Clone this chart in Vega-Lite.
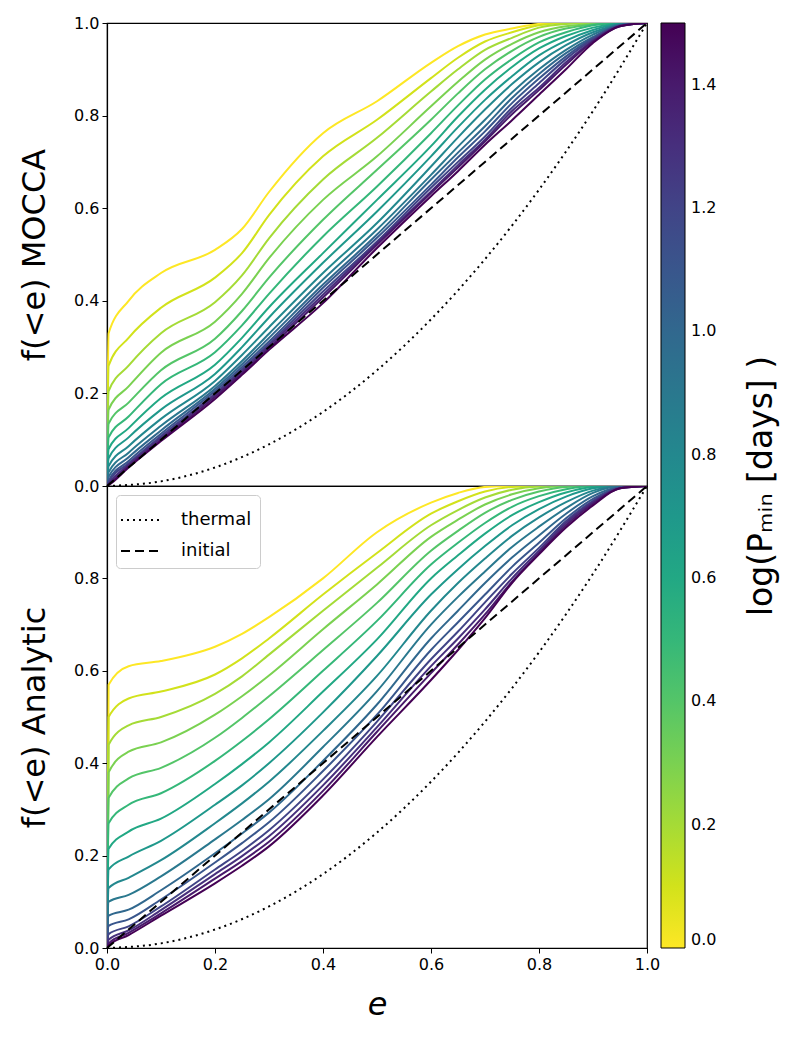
{
"$schema": "https://vega.github.io/schema/vega-lite/v6.json",
"padding": {"left": 17, "top": 14, "right": 5, "bottom": 5},
"datasets": {
"cdf": [
{"k":0,"e":0,"m":0,"a":0},{"k":0,"e":0.003,"m":0.33,"a":0.57},{"k":0,"e":0.04,"m":0.40,"a":0.61},{"k":0,"e":0.1,"m":0.46,"a":0.621},{"k":0,"e":0.2,"m":0.51,"a":0.652},{"k":0,"e":0.25,"m":0.555,"a":0.68},{"k":0,"e":0.3,"m":0.635,"a":0.716},{"k":0,"e":0.4,"m":0.762,"a":0.80},{"k":0,"e":0.5,"m":0.831,"a":0.90},{"k":0,"e":0.6,"m":0.914,"a":0.964},{"k":0,"e":0.65,"m":0.95,"a":0.985},{"k":0,"e":0.7,"m":0.975,"a":0.998},{"k":0,"e":0.75,"m":0.988,"a":1},{"k":0,"e":0.8,"m":0.998,"a":1},{"k":0,"e":0.85,"m":1,"a":1},{"k":0,"e":0.9,"m":1,"a":1},{"k":0,"e":0.95,"m":1,"a":1},{"k":0,"e":1,"m":1,"a":1},
{"k":0.1,"e":0,"m":0,"a":0},{"k":0.1,"e":0.003,"m":0.26,"a":0.50},{"k":0.1,"e":0.04,"m":0.32,"a":0.54},{"k":0.1,"e":0.1,"m":0.385,"a":0.555},{"k":0.1,"e":0.2,"m":0.45,"a":0.592},{"k":0.1,"e":0.25,"m":0.503,"a":0.627},{"k":0.1,"e":0.3,"m":0.585,"a":0.67},{"k":0.1,"e":0.4,"m":0.712,"a":0.765},{"k":0.1,"e":0.5,"m":0.791,"a":0.855},{"k":0.1,"e":0.6,"m":0.881,"a":0.94},{"k":0.1,"e":0.65,"m":0.925,"a":0.967},{"k":0.1,"e":0.7,"m":0.96,"a":0.988},{"k":0.1,"e":0.75,"m":0.98,"a":0.998},{"k":0.1,"e":0.8,"m":0.995,"a":1},{"k":0.1,"e":0.85,"m":1,"a":1},{"k":0.1,"e":0.9,"m":1,"a":1},{"k":0.1,"e":0.95,"m":1,"a":1},{"k":0.1,"e":1,"m":1,"a":1},
{"k":0.2,"e":0,"m":0,"a":0},{"k":0.2,"e":0.003,"m":0.205,"a":0.44},{"k":0.2,"e":0.04,"m":0.26,"a":0.482},{"k":0.2,"e":0.1,"m":0.33,"a":0.50},{"k":0.2,"e":0.2,"m":0.397,"a":0.55},{"k":0.2,"e":0.25,"m":0.455,"a":0.588},{"k":0.2,"e":0.3,"m":0.535,"a":0.635},{"k":0.2,"e":0.4,"m":0.662,"a":0.73},{"k":0.2,"e":0.5,"m":0.752,"a":0.823},{"k":0.2,"e":0.6,"m":0.852,"a":0.915},{"k":0.2,"e":0.65,"m":0.90,"a":0.948},{"k":0.2,"e":0.7,"m":0.942,"a":0.975},{"k":0.2,"e":0.75,"m":0.968,"a":0.992},{"k":0.2,"e":0.8,"m":0.99,"a":0.999},{"k":0.2,"e":0.85,"m":0.998,"a":1},{"k":0.2,"e":0.9,"m":1,"a":1},{"k":0.2,"e":0.95,"m":1,"a":1},{"k":0.2,"e":1,"m":1,"a":1},
{"k":0.3,"e":0,"m":0,"a":0},{"k":0.3,"e":0.003,"m":0.165,"a":0.38},{"k":0.3,"e":0.04,"m":0.215,"a":0.425},{"k":0.3,"e":0.1,"m":0.288,"a":0.445},{"k":0.3,"e":0.2,"m":0.355,"a":0.505},{"k":0.3,"e":0.25,"m":0.415,"a":0.545},{"k":0.3,"e":0.3,"m":0.492,"a":0.59},{"k":0.3,"e":0.4,"m":0.618,"a":0.69},{"k":0.3,"e":0.5,"m":0.712,"a":0.787},{"k":0.3,"e":0.6,"m":0.82,"a":0.89},{"k":0.3,"e":0.65,"m":0.873,"a":0.927},{"k":0.3,"e":0.7,"m":0.921,"a":0.96},{"k":0.3,"e":0.75,"m":0.955,"a":0.982},{"k":0.3,"e":0.8,"m":0.98,"a":0.995},{"k":0.3,"e":0.85,"m":0.993,"a":1},{"k":0.3,"e":0.9,"m":0.998,"a":1},{"k":0.3,"e":0.95,"m":1,"a":1},{"k":0.3,"e":1,"m":1,"a":1},
{"k":0.4,"e":0,"m":0,"a":0},{"k":0.4,"e":0.003,"m":0.135,"a":0.325},{"k":0.4,"e":0.04,"m":0.18,"a":0.367},{"k":0.4,"e":0.1,"m":0.25,"a":0.39},{"k":0.4,"e":0.2,"m":0.318,"a":0.455},{"k":0.4,"e":0.25,"m":0.378,"a":0.498},{"k":0.4,"e":0.3,"m":0.45,"a":0.545},{"k":0.4,"e":0.4,"m":0.575,"a":0.645},{"k":0.4,"e":0.5,"m":0.683,"a":0.747},{"k":0.4,"e":0.6,"m":0.791,"a":0.86},{"k":0.4,"e":0.65,"m":0.848,"a":0.903},{"k":0.4,"e":0.7,"m":0.90,"a":0.942},{"k":0.4,"e":0.75,"m":0.94,"a":0.97},{"k":0.4,"e":0.8,"m":0.97,"a":0.988},{"k":0.4,"e":0.85,"m":0.988,"a":0.998},{"k":0.4,"e":0.9,"m":0.997,"a":1},{"k":0.4,"e":0.95,"m":1,"a":1},{"k":0.4,"e":1,"m":1,"a":1},
{"k":0.5,"e":0,"m":0,"a":0},{"k":0.5,"e":0.003,"m":0.105,"a":0.27},{"k":0.5,"e":0.04,"m":0.15,"a":0.31},{"k":0.5,"e":0.1,"m":0.22,"a":0.335},{"k":0.5,"e":0.2,"m":0.289,"a":0.405},{"k":0.5,"e":0.25,"m":0.347,"a":0.448},{"k":0.5,"e":0.3,"m":0.415,"a":0.495},{"k":0.5,"e":0.4,"m":0.539,"a":0.60},{"k":0.5,"e":0.5,"m":0.647,"a":0.708},{"k":0.5,"e":0.6,"m":0.762,"a":0.83},{"k":0.5,"e":0.65,"m":0.822,"a":0.877},{"k":0.5,"e":0.7,"m":0.878,"a":0.92},{"k":0.5,"e":0.75,"m":0.922,"a":0.955},{"k":0.5,"e":0.8,"m":0.958,"a":0.978},{"k":0.5,"e":0.85,"m":0.98,"a":0.993},{"k":0.5,"e":0.9,"m":0.995,"a":1},{"k":0.5,"e":0.95,"m":1,"a":1},{"k":0.5,"e":1,"m":1,"a":1},
{"k":0.6,"e":0,"m":0,"a":0},{"k":0.6,"e":0.003,"m":0.08,"a":0.215},{"k":0.6,"e":0.04,"m":0.125,"a":0.252},{"k":0.6,"e":0.1,"m":0.19,"a":0.28},{"k":0.6,"e":0.2,"m":0.262,"a":0.355},{"k":0.6,"e":0.25,"m":0.32,"a":0.398},{"k":0.6,"e":0.3,"m":0.386,"a":0.445},{"k":0.6,"e":0.4,"m":0.503,"a":0.555},{"k":0.6,"e":0.5,"m":0.618,"a":0.668},{"k":0.6,"e":0.6,"m":0.734,"a":0.80},{"k":0.6,"e":0.65,"m":0.798,"a":0.85},{"k":0.6,"e":0.7,"m":0.856,"a":0.897},{"k":0.6,"e":0.75,"m":0.905,"a":0.937},{"k":0.6,"e":0.8,"m":0.945,"a":0.965},{"k":0.6,"e":0.85,"m":0.972,"a":0.986},{"k":0.6,"e":0.9,"m":0.99,"a":0.998},{"k":0.6,"e":0.95,"m":0.999,"a":1},{"k":0.6,"e":1,"m":1,"a":1},
{"k":0.7,"e":0,"m":0,"a":0},{"k":0.7,"e":0.003,"m":0.06,"a":0.17},{"k":0.7,"e":0.04,"m":0.105,"a":0.198},{"k":0.7,"e":0.1,"m":0.165,"a":0.232},{"k":0.7,"e":0.2,"m":0.242,"a":0.31},{"k":0.7,"e":0.25,"m":0.3,"a":0.352},{"k":0.7,"e":0.3,"m":0.364,"a":0.40},{"k":0.7,"e":0.4,"m":0.482,"a":0.51},{"k":0.7,"e":0.5,"m":0.593,"a":0.632},{"k":0.7,"e":0.6,"m":0.712,"a":0.765},{"k":0.7,"e":0.65,"m":0.775,"a":0.82},{"k":0.7,"e":0.7,"m":0.834,"a":0.87},{"k":0.7,"e":0.75,"m":0.885,"a":0.915},{"k":0.7,"e":0.8,"m":0.93,"a":0.95},{"k":0.7,"e":0.85,"m":0.962,"a":0.977},{"k":0.7,"e":0.9,"m":0.985,"a":0.995},{"k":0.7,"e":0.95,"m":0.998,"a":1},{"k":0.7,"e":1,"m":1,"a":1},
{"k":0.8,"e":0,"m":0,"a":0},{"k":0.8,"e":0.003,"m":0.043,"a":0.13},{"k":0.8,"e":0.04,"m":0.086,"a":0.152},{"k":0.8,"e":0.1,"m":0.145,"a":0.19},{"k":0.8,"e":0.2,"m":0.227,"a":0.27},{"k":0.8,"e":0.25,"m":0.283,"a":0.313},{"k":0.8,"e":0.3,"m":0.343,"a":0.36},{"k":0.8,"e":0.4,"m":0.46,"a":0.47},{"k":0.8,"e":0.5,"m":0.568,"a":0.589},{"k":0.8,"e":0.6,"m":0.69,"a":0.73},{"k":0.8,"e":0.65,"m":0.753,"a":0.79},{"k":0.8,"e":0.7,"m":0.813,"a":0.843},{"k":0.8,"e":0.75,"m":0.868,"a":0.892},{"k":0.8,"e":0.8,"m":0.915,"a":0.932},{"k":0.8,"e":0.85,"m":0.952,"a":0.965},{"k":0.8,"e":0.9,"m":0.98,"a":0.99},{"k":0.8,"e":0.95,"m":0.997,"a":1},{"k":0.8,"e":1,"m":1,"a":1},
{"k":0.9,"e":0,"m":0,"a":0},{"k":0.9,"e":0.003,"m":0.03,"a":0.10},{"k":0.9,"e":0.04,"m":0.072,"a":0.115},{"k":0.9,"e":0.1,"m":0.13,"a":0.155},{"k":0.9,"e":0.2,"m":0.216,"a":0.235},{"k":0.9,"e":0.25,"m":0.27,"a":0.277},{"k":0.9,"e":0.3,"m":0.329,"a":0.322},{"k":0.9,"e":0.4,"m":0.446,"a":0.435},{"k":0.9,"e":0.5,"m":0.554,"a":0.556},{"k":0.9,"e":0.6,"m":0.672,"a":0.70},{"k":0.9,"e":0.65,"m":0.733,"a":0.76},{"k":0.9,"e":0.7,"m":0.791,"a":0.815},{"k":0.9,"e":0.75,"m":0.85,"a":0.868},{"k":0.9,"e":0.8,"m":0.90,"a":0.912},{"k":0.9,"e":0.85,"m":0.942,"a":0.952},{"k":0.9,"e":0.9,"m":0.975,"a":0.985},{"k":0.9,"e":0.95,"m":0.996,"a":1},{"k":0.9,"e":1,"m":1,"a":1},
{"k":1.0,"e":0,"m":0,"a":0},{"k":1.0,"e":0.003,"m":0.02,"a":0.07},{"k":1.0,"e":0.04,"m":0.062,"a":0.083},{"k":1.0,"e":0.1,"m":0.12,"a":0.125},{"k":1.0,"e":0.2,"m":0.21,"a":0.205},{"k":1.0,"e":0.25,"m":0.263,"a":0.248},{"k":1.0,"e":0.3,"m":0.32,"a":0.293},{"k":1.0,"e":0.4,"m":0.435,"a":0.405},{"k":1.0,"e":0.5,"m":0.543,"a":0.527},{"k":1.0,"e":0.6,"m":0.662,"a":0.67},{"k":1.0,"e":0.65,"m":0.72,"a":0.73},{"k":1.0,"e":0.7,"m":0.777,"a":0.79},{"k":1.0,"e":0.75,"m":0.838,"a":0.845},{"k":1.0,"e":0.8,"m":0.89,"a":0.893},{"k":1.0,"e":0.85,"m":0.935,"a":0.94},{"k":1.0,"e":0.9,"m":0.97,"a":0.978},{"k":1.0,"e":0.95,"m":0.995,"a":0.998},{"k":1.0,"e":1,"m":1,"a":1},
{"k":1.1,"e":0,"m":0,"a":0},{"k":1.1,"e":0.003,"m":0.012,"a":0.048},{"k":1.1,"e":0.04,"m":0.054,"a":0.062},{"k":1.1,"e":0.1,"m":0.113,"a":0.105},{"k":1.1,"e":0.2,"m":0.205,"a":0.185},{"k":1.1,"e":0.25,"m":0.257,"a":0.227},{"k":1.1,"e":0.3,"m":0.312,"a":0.272},{"k":1.1,"e":0.4,"m":0.428,"a":0.383},{"k":1.1,"e":0.5,"m":0.536,"a":0.505},{"k":1.1,"e":0.6,"m":0.651,"a":0.645},{"k":1.1,"e":0.65,"m":0.71,"a":0.705},{"k":1.1,"e":0.7,"m":0.766,"a":0.765},{"k":1.1,"e":0.75,"m":0.827,"a":0.825},{"k":1.1,"e":0.8,"m":0.88,"a":0.877},{"k":1.1,"e":0.85,"m":0.928,"a":0.93},{"k":1.1,"e":0.9,"m":0.968,"a":0.972},{"k":1.1,"e":0.95,"m":0.995,"a":0.997},{"k":1.1,"e":1,"m":1,"a":1},
{"k":1.2,"e":0,"m":0,"a":0},{"k":1.2,"e":0.003,"m":0.008,"a":0.03},{"k":1.2,"e":0.04,"m":0.049,"a":0.047},{"k":1.2,"e":0.1,"m":0.108,"a":0.09},{"k":1.2,"e":0.2,"m":0.20,"a":0.17},{"k":1.2,"e":0.25,"m":0.252,"a":0.21},{"k":1.2,"e":0.3,"m":0.307,"a":0.255},{"k":1.2,"e":0.4,"m":0.42,"a":0.365},{"k":1.2,"e":0.5,"m":0.528,"a":0.49},{"k":1.2,"e":0.6,"m":0.644,"a":0.625},{"k":1.2,"e":0.65,"m":0.70,"a":0.685},{"k":1.2,"e":0.7,"m":0.755,"a":0.748},{"k":1.2,"e":0.75,"m":0.817,"a":0.81},{"k":1.2,"e":0.8,"m":0.87,"a":0.866},{"k":1.2,"e":0.85,"m":0.922,"a":0.924},{"k":1.2,"e":0.9,"m":0.965,"a":0.968},{"k":1.2,"e":0.95,"m":0.994,"a":0.996},{"k":1.2,"e":1,"m":1,"a":1},
{"k":1.3,"e":0,"m":0,"a":0},{"k":1.3,"e":0.003,"m":0.005,"a":0.018},{"k":1.3,"e":0.04,"m":0.046,"a":0.038},{"k":1.3,"e":0.1,"m":0.104,"a":0.082},{"k":1.3,"e":0.2,"m":0.197,"a":0.16},{"k":1.3,"e":0.25,"m":0.248,"a":0.199},{"k":1.3,"e":0.3,"m":0.303,"a":0.242},{"k":1.3,"e":0.4,"m":0.413,"a":0.352},{"k":1.3,"e":0.5,"m":0.525,"a":0.478},{"k":1.3,"e":0.6,"m":0.636,"a":0.61},{"k":1.3,"e":0.65,"m":0.693,"a":0.67},{"k":1.3,"e":0.7,"m":0.748,"a":0.733},{"k":1.3,"e":0.75,"m":0.81,"a":0.80},{"k":1.3,"e":0.8,"m":0.86,"a":0.86},{"k":1.3,"e":0.85,"m":0.915,"a":0.92},{"k":1.3,"e":0.9,"m":0.962,"a":0.965},{"k":1.3,"e":0.95,"m":0.994,"a":0.995},{"k":1.3,"e":1,"m":1,"a":1},
{"k":1.4,"e":0,"m":0,"a":0},{"k":1.4,"e":0.003,"m":0.003,"a":0.01},{"k":1.4,"e":0.04,"m":0.043,"a":0.033},{"k":1.4,"e":0.1,"m":0.10,"a":0.075},{"k":1.4,"e":0.2,"m":0.193,"a":0.15},{"k":1.4,"e":0.25,"m":0.244,"a":0.188},{"k":1.4,"e":0.3,"m":0.298,"a":0.23},{"k":1.4,"e":0.4,"m":0.407,"a":0.34},{"k":1.4,"e":0.5,"m":0.521,"a":0.468},{"k":1.4,"e":0.6,"m":0.633,"a":0.595},{"k":1.4,"e":0.65,"m":0.688,"a":0.657},{"k":1.4,"e":0.7,"m":0.744,"a":0.722},{"k":1.4,"e":0.75,"m":0.803,"a":0.793},{"k":1.4,"e":0.8,"m":0.855,"a":0.855},{"k":1.4,"e":0.85,"m":0.91,"a":0.915},{"k":1.4,"e":0.9,"m":0.96,"a":0.962},{"k":1.4,"e":0.95,"m":0.993,"a":0.995},{"k":1.4,"e":1,"m":1,"a":1},
{"k":1.5,"e":0,"m":0,"a":0},{"k":1.5,"e":0.003,"m":0.002,"a":0.005},{"k":1.5,"e":0.04,"m":0.04,"a":0.028},{"k":1.5,"e":0.1,"m":0.097,"a":0.07},{"k":1.5,"e":0.2,"m":0.188,"a":0.14},{"k":1.5,"e":0.25,"m":0.24,"a":0.178},{"k":1.5,"e":0.3,"m":0.294,"a":0.22},{"k":1.5,"e":0.4,"m":0.395,"a":0.33},{"k":1.5,"e":0.5,"m":0.514,"a":0.457},{"k":1.5,"e":0.6,"m":0.626,"a":0.58},{"k":1.5,"e":0.65,"m":0.68,"a":0.645},{"k":1.5,"e":0.7,"m":0.737,"a":0.714},{"k":1.5,"e":0.75,"m":0.79,"a":0.79},{"k":1.5,"e":0.8,"m":0.845,"a":0.852},{"k":1.5,"e":0.85,"m":0.90,"a":0.91},{"k":1.5,"e":0.9,"m":0.957,"a":0.958},{"k":1.5,"e":0.95,"m":0.993,"a":0.995},{"k":1.5,"e":1,"m":1,"a":1}
],
"ref": [
{"s":"thermal","e":0,"f":0},{"s":"thermal","e":0.1,"f":0.01},{"s":"thermal","e":0.2,"f":0.04},{"s":"thermal","e":0.3,"f":0.09},{"s":"thermal","e":0.4,"f":0.16},{"s":"thermal","e":0.5,"f":0.25},{"s":"thermal","e":0.6,"f":0.36},{"s":"thermal","e":0.7,"f":0.49},{"s":"thermal","e":0.8,"f":0.64},{"s":"thermal","e":0.9,"f":0.81},{"s":"thermal","e":1,"f":1},
{"s":"initial","e":0,"f":0},{"s":"initial","e":1,"f":1}
]
},
"spacing": 0,
"bounds": "flush",
"resolve": {"scale": {"strokeDash": "independent"}},
"vconcat": [
{
"width": 540, "height": 463,
"layer": [
{"data": {"name": "cdf"},
 "mark": {"type": "line", "strokeWidth": 2, "clip": true, "interpolate": "monotone"},
 "encoding": {
  "x": {"field": "e", "type": "quantitative", "scale": {"domain": [0, 1], "nice": false}, "axis": null},
  "y": {"field": "m", "type": "quantitative", "scale": {"domain": [0, 1], "nice": false}, "title": "f(<e) MOCCA", "axis": {"values": [0, 0.2, 0.4, 0.6, 0.8, 1], "format": ".1f"}},
  "color": {"field": "k", "type": "quantitative", "scale": {"scheme": "viridis", "reverse": true, "domain": [0, 1.5]},
   "legend": {"title": "log(Pₘᵢₙ [days] )", "orient": "right", "direction": "vertical", "offset": 0, "padding": 0,
    "gradientLength": 925, "gradientThickness": 24, "gradientStrokeColor": "black", "gradientStrokeWidth": 1,
    "values": [0, 0.2, 0.4, 0.6, 0.8, 1.0, 1.2, 1.4], "format": ".1f", "labelOverlap": false,
    "labelFont": "DejaVu Sans", "labelFontSize": 16, "labelColor": "black", "labelOffset": 6,
    "titleOrient": "right", "titleFont": "DejaVu Sans", "titleFontSize": 33, "titleFontWeight": "normal", "titleColor": "black", "titleAnchor": "middle", "titlePadding": 30, "titleLimit": 2000, "titleBaseline": "top",
    "encode": {"title": {"update": {"angle": {"value": -90}}}}}},
  "detail": {"field": "k"}
 }},
{"data": {"name": "ref"},
 "transform": [{"filter": "datum.s === 'thermal'"}],
 "mark": {"type": "line", "color": "black", "strokeWidth": 2, "strokeDash": [2, 4], "interpolate": "monotone"},
 "encoding": {
  "x": {"field": "e", "type": "quantitative", "axis": null},
  "y": {"field": "f", "type": "quantitative", "title": "f(<e) MOCCA", "axis": {"values": [0, 0.2, 0.4, 0.6, 0.8, 1], "format": ".1f"}}
 }},
{"data": {"name": "ref"},
 "transform": [{"filter": "datum.s === 'initial'"}],
 "mark": {"type": "line", "color": "black", "strokeWidth": 2, "strokeDash": [9, 5]},
 "encoding": {
  "x": {"field": "e", "type": "quantitative", "axis": null},
  "y": {"field": "f", "type": "quantitative", "title": "f(<e) MOCCA", "axis": {"values": [0, 0.2, 0.4, 0.6, 0.8, 1], "format": ".1f"}}
 }}
]
},
{
"width": 540, "height": 462,
"layer": [
{"data": {"name": "cdf"},
 "mark": {"type": "line", "strokeWidth": 2, "clip": true, "interpolate": "monotone"},
 "encoding": {
  "x": {"field": "e", "type": "quantitative", "scale": {"domain": [0, 1], "nice": false}, "title": "e", "axis": {"values": [0, 0.2, 0.4, 0.6, 0.8, 1], "format": ".1f", "titleFontStyle": "italic", "titlePadding": 17}},
  "y": {"field": "a", "type": "quantitative", "scale": {"domain": [0, 1], "nice": false}, "title": "f(<e) Analytic", "axis": {"values": [0, 0.2, 0.4, 0.6, 0.8], "format": ".1f"}},
  "color": {"field": "k", "type": "quantitative", "scale": {"scheme": "viridis", "reverse": true, "domain": [0, 1.5]}},
  "detail": {"field": "k"}
 }},
{"data": {"name": "ref"},
 "mark": {"type": "line", "color": "black", "strokeWidth": 2, "interpolate": "monotone"},
 "encoding": {
  "x": {"field": "e", "type": "quantitative", "title": "e", "axis": {"values": [0, 0.2, 0.4, 0.6, 0.8, 1], "format": ".1f", "titleFontStyle": "italic", "titlePadding": 17}},
  "y": {"field": "f", "type": "quantitative", "title": "f(<e) Analytic", "axis": {"values": [0, 0.2, 0.4, 0.6, 0.8], "format": ".1f"}},
  "strokeDash": {"field": "s", "type": "nominal",
   "scale": {"domain": ["thermal", "initial"], "range": [[2, 4], [9, 5]]},
   "legend": {"title": null, "orient": "top-left", "offset": 9, "padding": 8, "strokeColor": "#cccccc", "fillColor": "white", "cornerRadius": 4,
    "symbolType": "M-1.25,0H1.25", "symbolSize": 1024, "symbolStrokeWidth": 2, "symbolStrokeColor": "black",
    "labelFont": "DejaVu Sans", "labelFontSize": 18, "labelColor": "black", "labelOffset": 23, "rowPadding": 5, "labelLimit": 300}}
 }}
]
}
],
"config": {
 "font": "DejaVu Sans",
 "view": {"stroke": "black", "strokeWidth": 1.2},
 "axis": {"labelFont": "DejaVu Sans", "titleFont": "DejaVu Sans", "labelFontSize": 16, "titleFontSize": 32, "titleFontWeight": "normal",
  "labelColor": "black", "titleColor": "black", "tickColor": "black", "domainColor": "black", "domainWidth": 1.2, "tickWidth": 1,
  "tickSize": 5, "grid": false, "labelPadding": 3, "titlePadding": 22, "labelFlush": false}
}
}
